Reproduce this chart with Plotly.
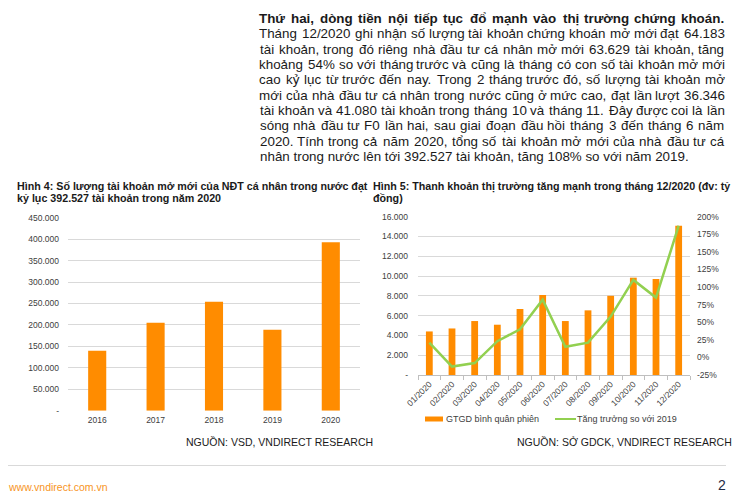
import unicodedata
import plotly.graph_objects as go

W, H = 755, 504      # browser window
OFF = 8              # default page body margin around the plot div
FW, FH = W - OFF, H - OFF

# ---------------- data ----------------
years = ["2016", "2017", "2018", "2019", "2020"]
new_accounts = [140000, 205000, 254000, 188700, 392527]
left_tickvals = [0, 50000, 100000, 150000, 200000, 250000, 300000, 350000, 400000, 450000]
left_ticktext = ["-", "50.000", "100.000", "150.000", "200.000", "250.000",
                 "300.000", "350.000", "400.000", "450.000"]

months = ["01/2020", "02/2020", "03/2020", "04/2020", "05/2020", "06/2020",
          "07/2020", "08/2020", "09/2020", "10/2020", "11/2020", "12/2020"]
avg_value = [4400, 4700, 5450, 5080, 6670, 8080, 5450, 6530, 8000, 9830, 9700, 15080]
growth_pct = [21, -13, -8, 23, 40, 82, 15, 21, 58, 110, 85, 187]
right_tickvals = [0, 2000, 4000, 6000, 8000, 10000, 12000, 14000, 16000]
right_ticktext = ["-", "2.000", "4.000", "6.000", "8.000", "10.000", "12.000", "14.000", "16.000"]
pct_tickvals = [-25, 0, 25, 50, 75, 100, 125, 150, 175, 200]
pct_ticktext = ["-25%", "0%", "25%", "50%", "75%", "100%", "125%", "150%", "175%", "200%"]

paragraph_lines = [
    "Thứ hai, dòng tiền nội tiếp tục đổ mạnh vào thị trường chứng khoán.",
    "Tháng 12/2020 ghi nhận số lượng tài khoản chứng khoán mở mới đạt 64.183",
    "tài khoản, trong đó riêng nhà đầu tư cá nhân mở mới 63.629 tài khoản, tăng",
    "khoảng 54% so với tháng trước và cũng là tháng có con số tài khoản mở mới",
    "cao kỷ lục từ trước đến nay. Trong 2 tháng trước đó, số lượng tài khoản mở",
    "mới của nhà đầu tư cá nhân trong nước cũng ở mức cao, đạt lần lượt 36.346",
    "tài khoản và 41.080 tài khoản trong tháng 10 và tháng 11. Đây được coi là lần",
    "sóng nhà đầu tư F0 lần hai, sau giai đoạn đầu hồi tháng 3 đến tháng 6 năm",
    "2020. Tính trong cả năm 2020, tổng số tài khoản mở mới của nhà đầu tư cá",
    "nhân trong nước lên tới 392.527 tài khoản, tăng 108% so với năm 2019.",
]
title4 = ["Hình 4: Số lượng tài khoản mở mới của NĐT cá nhân trong nước đạt",
          "kỷ lục 392.527 tài khoản trong năm 2020"]
title5 = ["Hình 5: Thanh khoản thị trường tăng mạnh trong tháng 12/2020 (đv: tỷ",
          "đồng)"]
source4 = "NGUỒN: VSD, VNDIRECT RESEARCH"
source5 = "NGUỒN: SỞ GDCK, VNDIRECT RESEARCH"
legend_bar = "GTGD bình quân phiên"
legend_line = "Tăng trưởng so với 2019"
footer_site = "www.vndirect.com.vn"
page_no = "2"

# ---------------- styling ----------------
FONT = "Arial, Liberation Sans, sans-serif"
ORANGE = "#FF8C00"
GREEN = "#92D050"
GRID = "#D9D9D9"
TICK = "#404040"
TXT = "#1a1a1a"

# Arial-compatible advance widths (per 1000 em)
_reg = {' ': 278, '!': 278, '%': 889, '(': 333, ')': 333, ',': 278, '-': 333, '.': 278,
        '/': 278, ':': 278, ';': 278, '?': 556}
_reg.update({d: 556 for d in "0123456789"})
_reg.update(dict(zip("ABCDEFGHIJKLMNOPQRSTUVWXYZ",
                     [667, 667, 722, 722, 667, 611, 778, 722, 278, 500, 667, 556, 833, 722, 778,
                      667, 778, 722, 667, 611, 722, 667, 944, 667, 667, 611])))
_reg.update(dict(zip("abcdefghijklmnopqrstuvwxyz",
                     [556, 556, 500, 556, 556, 278, 556, 556, 222, 222, 500, 222, 833, 556, 556,
                      556, 556, 333, 500, 278, 556, 500, 722, 500, 500, 500])))
_bold = {' ': 278, '!': 333, '%': 889, '(': 333, ')': 333, ',': 278, '-': 333, '.': 278,
         '/': 278, ':': 333, ';': 333}
_bold.update({d: 556 for d in "0123456789"})
_bold.update(dict(zip("ABCDEFGHIJKLMNOPQRSTUVWXYZ",
                      [722, 722, 722, 722, 667, 611, 778, 722, 278, 556, 722, 611, 833, 722, 778,
                       667, 778, 722, 667, 611, 722, 667, 944, 667, 667, 611])))
_bold.update(dict(zip("abcdefghijklmnopqrstuvwxyz",
                      [556, 611, 556, 611, 556, 333, 611, 611, 278, 278, 556, 278, 889, 611, 611,
                       611, 611, 389, 556, 333, 611, 556, 778, 556, 556, 500])))


def char_w(ch, bold):
    t = _bold if bold else _reg
    extra = 0
    if ch == 'đ':
        base = 'd'
    elif ch == 'Đ':
        base = 'D'
    else:
        dec = unicodedata.normalize('NFD', ch)
        base = dec[0]
        if '\u031b' in dec:
            extra = 60
    return t.get(base, 556) + extra


def measure(s, bold=False):
    return sum(char_w(c, bold) for c in s) / 1000.0


def px(x):
    return (x - OFF) / FW


def py(y):
    return 1 - (y - OFF) / FH


annotations = []
shapes = []


def text(s, x, y, size, color=TXT, anchor="left", bold=False, family=FONT):
    annotations.append(dict(
        text=("<b>%s</b>" % s) if bold else s, x=px(x), y=py(y), xref="paper", yref="paper",
        xanchor=anchor, yanchor="middle", showarrow=False, borderpad=0, borderwidth=0,
        font=dict(family=family, size=size, color=color)))


def justified(line, x0, x1, y, size, bold=False, justify=True, color=TXT):
    words = line.split(' ')
    ws = [measure(w, bold) * size for w in words]
    n = len(words)
    if not justify or n == 1:
        text(line, x0, y, size, color, "left", bold)
        return
    gap = (x1 - x0 - sum(ws)) / (n - 1)
    for i, w in enumerate(words):
        xc = x0 + sum(ws[:i]) + i * gap + ws[i] / 2
        text(w, xc, y, size, color, "center", bold)


# paragraph
PX0, PX1 = 259.5, 724.5
p_size = 427.0 / measure(paragraph_lines[-1])
for i, ln in enumerate(paragraph_lines):
    yy = 18.3 + i * 15.38
    last = i == len(paragraph_lines) - 1
    justified(ln, PX0, PX1, yy, p_size, bold=(i == 0), justify=not last)

# chart titles
t_size = 348.0 / measure(title4[0], True)
text(title4[0], 17, 186, t_size, TXT, "left", True)
text(title4[1], 17, 198, t_size, TXT, "left", True)
text(title5[0], 373, 186.5, t_size, TXT, "left", True)
text(title5[1], 373, 198.5, t_size, TXT, "left", True)

# sources
text(source4, 373, 442, 10.5, TXT, "right")
text(source5, 732, 442, 10.5, TXT, "right")

# legend (right chart)
shapes.append(dict(type="rect", xref="paper", yref="paper", x0=px(425), x1=px(443),
                   y0=py(421.5), y1=py(416.5), fillcolor=ORANGE, line=dict(width=0)))
text(legend_bar, 446, 419, 9, TICK, "left")
shapes.append(dict(type="line", xref="paper", yref="paper", x0=px(555), x1=px(576),
                   y0=py(419), y1=py(419), line=dict(color=GREEN, width=2)))
text(legend_line, 576.5, 419, 9, TICK, "left")

# footer
shapes.append(dict(type="line", xref="paper", yref="paper", x0=px(8), x1=px(726),
                   y0=py(465.5), y1=py(465.5), line=dict(color=GRID, width=1)))
text(footer_site, 8, 487, 10.5, "#F7941D", "left")
text(page_no, 726, 484.5, 14, "#1F2A44", "right")

fig = go.Figure()

fig.add_trace(go.Bar(x=years, y=new_accounts, marker=dict(color=ORANGE, line=dict(width=0)),
                     width=0.31, xaxis="x", yaxis="y", showlegend=False))
fig.add_trace(go.Bar(x=months, y=avg_value, marker=dict(color=ORANGE, line=dict(width=0)),
                     width=0.3, xaxis="x2", yaxis="y2", showlegend=False))
fig.add_trace(go.Scatter(x=months, y=growth_pct, mode="lines",
                         line=dict(color=GREEN, width=2.5), xaxis="x2", yaxis="y3",
                         showlegend=False, cliponaxis=False))

tickfont = dict(family=FONT, size=8.5, color=TICK)

fig.update_layout(
    template="none",
    width=FW, height=FH, margin=dict(l=0, r=0, t=0, b=0, pad=0, autoexpand=False),
    paper_bgcolor="white", plot_bgcolor="white", showlegend=False,
    font=dict(family=FONT),
    xaxis=dict(domain=[px(68), px(360)], type="category", showgrid=False, showline=False,
               ticks="", tickfont=tickfont, ticklabelstandoff=3, fixedrange=True,
               automargin=False),
    yaxis=dict(domain=[py(410.7), py(217.7)], range=[0, 450000], tickvals=left_tickvals,
               ticktext=left_ticktext, showgrid=True, gridcolor=GRID, gridwidth=1,
               zeroline=False, showline=False, ticks="", tickfont=tickfont,
               ticklabelstandoff=8, automargin=False),
    xaxis2=dict(domain=[px(418), px(690)], type="category", showgrid=False, showline=True,
                linecolor="#BFBFBF", linewidth=1, ticks="outside", tickson="boundaries",
                ticklen=4, tickcolor="#BFBFBF", tickangle=-45, tickfont=tickfont,
                anchor="y2", automargin=False),
    yaxis2=dict(domain=[py(375), py(216.6)], range=[0, 16000], tickvals=right_tickvals,
                ticktext=right_ticktext, showgrid=True, gridcolor=GRID, gridwidth=1,
                zeroline=False, showline=False, ticks="", tickfont=tickfont,
                ticklabelstandoff=9, anchor="x2", automargin=False),
    yaxis3=dict(domain=[py(375), py(216.6)], range=[-25, 200], tickvals=pct_tickvals,
                ticktext=pct_ticktext, overlaying="y2", side="right", anchor="x2",
                showgrid=False, zeroline=False, showline=False, ticks="",
                tickfont=tickfont, ticklabelstandoff=6, automargin=False),
    annotations=annotations, shapes=shapes,
)

fig.write_html("out.html")
